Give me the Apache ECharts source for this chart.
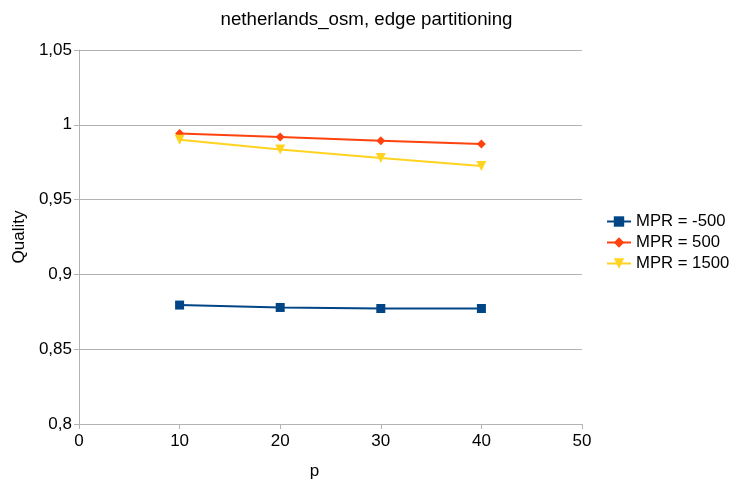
<!DOCTYPE html>
<html>
<head>
<meta charset="utf-8">
<script src="https://cdn.jsdelivr.net/npm/echarts@6/dist/echarts.min.js"></script>
<style>
  html, body { margin: 0; padding: 0; background: #fff; }
  #chart { width: 733px; height: 481px; }
</style>
</head>
<body>
<div id="chart"></div>
<script>
// Partition counts p on the x axis
const pValues = [10, 20, 30, 40];

// Quality per MPR setting
const seriesNames = ['MPR = -500', 'MPR = 500', 'MPR = 1500'];
const qualityMinus500 = [0.8795, 0.8779, 0.8772, 0.8772];
const quality500 = [0.9942, 0.9918, 0.9894, 0.9872];
const quality1500 = [0.9900, 0.9835, 0.9778, 0.9725];

const colors = ['#004586', '#ff420e', '#ffd320'];
const symbols = ['rect', 'diamond', 'path://M0,0 L10,0 L5,9 Z'];
const symbolSizes = [9, 9, 10];
const valuesList = [qualityMinus500, quality500, quality1500];

const font = 'Liberation Sans, Arial, sans-serif';

const chart = echarts.init(document.getElementById('chart'), null, { renderer: 'canvas' });

const series = seriesNames.map((name, i) => ({
  name: name,
  type: 'line',
  data: pValues.map((p, j) => [p, valuesList[i][j]]),
  symbol: symbols[i],
  symbolSize: symbolSizes[i],
  showAllSymbol: true,
  lineStyle: { color: colors[i], width: 2 },
  itemStyle: { color: colors[i] },
  animation: false
}));

chart.setOption({
  animation: false,
  title: {
    text: 'netherlands_osm, edge partitioning',
    left: 'center',
    top: 5,
    textStyle: { fontFamily: font, fontSize: 18.7, fontWeight: 'normal', color: '#000' }
  },
  legend: {
    orient: 'vertical',
    left: 606,
    top: 213,
    padding: 0,
    itemWidth: 24,
    itemHeight: 13,
    itemGap: 4,
    data: seriesNames,
    textStyle: { fontFamily: font, fontSize: 16.7, color: '#000' }
  },
  grid: { left: 79, right: 151, top: 50, bottom: 57, containLabel: false, outerBoundsMode: 'none' },
  xAxis: {
    type: 'value',
    min: 0,
    max: 50,
    interval: 10,
    name: 'p',
    nameLocation: 'middle',
    nameGap: 39,
    nameTextStyle: { fontFamily: font, fontSize: 17, color: '#000', padding: [0, 32, 0, 0] },
    axisLine: { show: true, lineStyle: { color: '#b3b3b3', width: 1 } },
    axisTick: { show: true, length: 5, lineStyle: { color: '#b3b3b3' } },
    axisLabel: { fontFamily: font, fontSize: 17, color: '#000', margin: 9 },
    splitLine: { show: false }
  },
  yAxis: {
    type: 'value',
    min: 0.8,
    max: 1.05,
    interval: 0.05,
    name: 'Quality',
    nameLocation: 'middle',
    nameGap: 47,
    nameRotate: 90,
    nameTextStyle: { fontFamily: font, fontSize: 17, color: '#000' },
    axisLine: { show: true, lineStyle: { color: '#b3b3b3', width: 1 } },
    axisTick: { show: true, length: 5, lineStyle: { color: '#b3b3b3' } },
    axisLabel: {
      fontFamily: font, fontSize: 17, color: '#000', margin: 7,
      formatter: v => String(Math.round(v * 100) / 100).replace('.', ',')
    },
    splitLine: { show: true, lineStyle: { color: '#b3b3b3', width: 1 } }
  },
  series: series
});
</script>
</body>
</html>
